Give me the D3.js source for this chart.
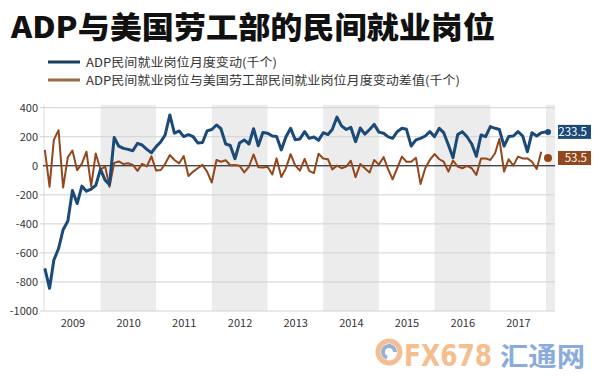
<!DOCTYPE html>
<html lang="zh-CN">
<head>
<meta charset="utf-8">
<title>ADP与美国劳工部的民间就业岗位</title>
<script src="https://cdnjs.cloudflare.com/ajax/libs/d3/7.8.5/d3.min.js"></script>
<style>
  body { margin: 0; background: #fff; }
  svg { display: block; font-family: "Noto Sans CJK SC", "Noto Sans", sans-serif; }
  .axis path, .axis line { display: none; }
  .axis text { fill: #333; font-size: 11px; font-family: "Noto Sans CJK SC", sans-serif; }
  .grid { stroke: #d2d2d2; stroke-width: 1; }
  .legend text { fill: #333; font-size: 12px; }
</style>
</head>
<body>
<div id="chart"></div>
<script>
// Texts
const title = 'ADP与美国劳工部的民间就业岗位';
const seriesNames = ['ADP民间就业岗位月度变动(千个)', 'ADP民间就业岗位与美国劳工部民间就业岗位月度变动差值(千个)'];
const seriesColors = ['#1b4a79', '#94461c'];

// Axis ticks
const yearLabels = [2009, 2010, 2011, 2012, 2013, 2014, 2015, 2016, 2017];
const bandYears = [2008, 2010, 2012, 2014, 2016, 2018];
const yTicks = [400, 200, 0, -200, -400, -600, -800, -1000];

// Monthly data, Jan 2009 .. Jan 2018 (thousands)
const firstMonth = new Date(2009, 0, 1);
const adpChange = [
  -706, -844, -650, -570, -440, -380, -170, -260, -140, -175, -160, -135,
  -25, -100, -130, 195, 135, 120, 113, 104, 155, 143, 113, 90,
  132, 166, 212, 350, 224, 240, 201, 214, 200, 157, 160, 240,
  250, 281, 255, 150, 140, 48, 157, 178, 150, 255, 138, 229,
  224, 205, 201, 109, 198, 258, 180, 185, 235, 189, 198, 175,
  228, 215, 250, 335, 275, 250, 265, 166, 260, 218, 250, 285,
  232, 224, 201, 189, 235, 258, 251, 136, 178, 189, 205, 235,
  201, 258, 228, 143, 55, 215, 235, 200, 150, 65, 212, 201,
  270, 258, 250, 135, 201, 205, 235, 205, 97, 228, 205, 228,
  233.5
];
const adpDiff = [
  109, -144, 178, 245, -150, 60, 105, -30, 15, 97, -140, 85,
  -25, -6, -144, 20, 30, 12, 17, 6, -35, 14, -4, 65,
  -33, -29, 14, 74, 40, 17, 67, -70, -40, -17, 6, -40,
  -115, 40, 28, 38, 4, 5, 0, -45, -5, 78, -10, -12,
  -6, -60, 51, -77, -18, 80, 3, -33, 48, -35, -50, 83,
  50, 45, -25, 1, -17, -6, 35, -79, 12, -17, -47, 40,
  8, 60, -20, -93, -17, 63, 28, 28, 55, -125, -17, 40,
  81, 45, 28, -40, 35, -6, -17, 0, -17, -63, 51, 51,
  40, 86, 185, -40, 45, 1, 63, 51, 51, 28, -22, 97
];
const adpDiffLatest = 53.5;

const width = 600;
const height = 376;
const plot = { left: 43, right: 555, top: 104, bottom: 311 };

const months = adpChange.map((d, i) => d3.timeMonth.offset(firstMonth, i));

const svg = d3.select('#chart').append('svg')
  .attr('width', width)
  .attr('height', height);

const x = d3.scaleTime()
  .domain([new Date(2008, 11, 20), new Date(2018, 2, 1)])
  .range([plot.left, plot.right]);
const y = d3.scaleLinear()
  .domain([-1000, 400])
  .range([plot.bottom, 107.7]);

// Title
svg.append('text')
  .attr('x', 11)
  .attr('y', 38)
  .attr('font-size', 30)
  .attr('font-weight', 900)
  .attr('fill', '#111')
  .attr('textLength', 484)
  .attr('lengthAdjust', 'spacingAndGlyphs')
  .text(title);

// Legend
const legendWidths = [191, 374];
const legend = svg.append('g').attr('class', 'legend');
seriesNames.forEach((name, i) => {
  const ly = 62 + i * 18;
  legend.append('line')
    .attr('x1', 48).attr('x2', 80)
    .attr('y1', ly).attr('y2', ly)
    .attr('stroke', i === 0 ? '#173d5c' : '#a06a48')
    .attr('stroke-width', 3);
  legend.append('text')
    .attr('x', 86)
    .attr('y', ly + 4.5)
    .attr('textLength', legendWidths[i])
    .attr('lengthAdjust', 'spacingAndGlyphs')
    .text(name);
});

// Alternating year bands
svg.append('g').selectAll('rect')
  .data(bandYears)
  .join('rect')
    .attr('x', d => Math.max(x(new Date(d, 0, 1)), plot.left))
    .attr('width', d => Math.min(x(new Date(d + 1, 0, 1)), plot.right) - Math.max(x(new Date(d, 0, 1)), plot.left))
    .attr('y', y(420))
    .attr('height', y(-1000) - y(420))
    .attr('fill', '#ececec');

// Grid
svg.append('g').selectAll('line')
  .data(yTicks.filter(d => d !== 0))
  .join('line')
    .attr('class', 'grid')
    .attr('x1', 40).attr('x2', plot.right)
    .attr('y1', d => y(d)).attr('y2', d => y(d));

// Axes
svg.append('g')
  .attr('class', 'axis')
  .attr('transform', `translate(${plot.left},0)`)
  .call(d3.axisLeft(y).tickValues(yTicks).tickSize(0).tickPadding(5).tickFormat(d => String(d)));

svg.append('g')
  .attr('class', 'axis')
  .attr('transform', `translate(0,${plot.bottom})`)
  .call(d3.axisBottom(x)
    .tickValues(yearLabels.map(yr => new Date(yr, 6, 1)))
    .tickSize(0).tickPadding(8)
    .tickFormat(d3.timeFormat('%Y')));

// Zero line
svg.append('line')
  .attr('x1', plot.left).attr('x2', plot.right)
  .attr('y1', y(0)).attr('y2', y(0))
  .attr('stroke', '#000')
  .attr('stroke-width', 1);

const line = d3.line()
  .x((d, i) => x(months[i]))
  .y(d => y(d));

svg.append('path')
  .datum(adpDiff)
  .attr('fill', 'none')
  .attr('stroke', seriesColors[1])
  .attr('stroke-width', 2)
  .attr('stroke-linejoin', 'round')
  .attr('d', line);

svg.append('path')
  .datum(adpChange)
  .attr('fill', 'none')
  .attr('stroke', seriesColors[0])
  .attr('stroke-width', 3)
  .attr('stroke-linejoin', 'round')
  .attr('d', line);

// End markers and value labels
const lastMonth = months[months.length - 1];
const ends = [
  { value: adpChange[adpChange.length - 1], color: seriesColors[0], r: 3 },
  { value: adpDiffLatest, color: seriesColors[1], r: 4 }
];
ends.forEach(e => {
  svg.append('circle')
    .attr('cx', x(lastMonth) + 2)
    .attr('cy', y(e.value))
    .attr('r', e.r)
    .attr('fill', e.color);
  svg.append('rect')
    .attr('x', 558)
    .attr('y', y(e.value) - 7)
    .attr('width', 33)
    .attr('height', 14)
    .attr('fill', e.color);
  svg.append('text')
    .attr('x', 587)
    .attr('y', y(e.value) + 4)
    .attr('text-anchor', 'end')
    .attr('font-size', 11.5)
    .attr('fill', '#fff')
    .text(e.value);
});

// Watermark logo
const logo = svg.append('g').attr('opacity', 0.7);
logo.append('circle')
  .attr('cx', 389).attr('cy', 352).attr('r', 11)
  .attr('fill', 'none')
  .attr('stroke', '#eea36a')
  .attr('stroke-width', 5);
logo.append('path')
  .attr('d', d3.arc()({ innerRadius: 4, outerRadius: 8, startAngle: -Math.PI * 0.9, endAngle: Math.PI * 0.5 }))
  .attr('transform', 'translate(389,352)')
  .attr('fill', '#6d8fc4');
logo.append('text')
  .attr('x', 404).attr('y', 366)
  .attr('font-family', '"DejaVu Sans Condensed", "DejaVu Sans", sans-serif')
  .attr('font-size', 31)
  .attr('font-weight', 700)
  .attr('fill', '#f2a35e')
  .attr('textLength', 88)
  .attr('lengthAdjust', 'spacingAndGlyphs')
  .text('FX678');
logo.append('text')
  .attr('x', 500).attr('y', 366)
  .attr('font-size', 26)
  .attr('font-weight', 700)
  .attr('fill', '#5b88cc')
  .attr('textLength', 85)
  .attr('lengthAdjust', 'spacingAndGlyphs')
  .text('汇通网');
</script>
</body>
</html>
